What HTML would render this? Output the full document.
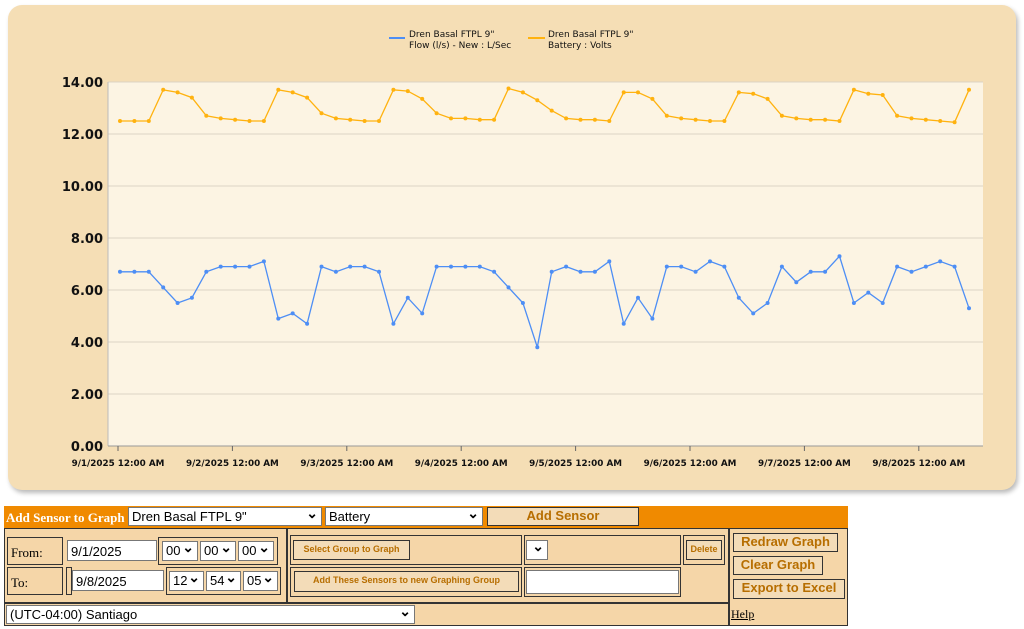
<!DOCTYPE html>
<html><head><meta charset="utf-8"><style>
body{margin:0;width:1024px;height:629px;background:#fff;position:relative;overflow:hidden;font-family:"Liberation Sans",sans-serif}
.panel{position:absolute;left:8px;top:5px;width:1008px;height:485px;background:#f5deb5;border-radius:14px;box-shadow:2px 3px 5px #bbb}
.abs{position:absolute;box-sizing:border-box}
.sel{background:#fff;border:1px solid #777;font-size:13px;padding:1px 3px;color:#000}
.btn{background:#f3dcb8;border:2px solid #333;color:#b76e00;font-weight:bold;text-align:center}
.cell{border:1px solid #333}
.serif{font-family:"Liberation Serif",serif}
.arr::after{content:"⌄";position:absolute;right:3px;top:-3px;font-size:14px;font-weight:bold}
</style></head><body>
<div class="panel"></div>
<svg id="c" class="abs" style="left:0;top:0" width="1024" height="500" xmlns="http://www.w3.org/2000/svg"></svg>

<div class="abs" style="left:4px;top:506px;width:844px;height:22px;background:#f08a00"></div>
<div class="abs serif" style="left:6px;top:510px;color:#fff;font-weight:bold;font-size:13px">Add Sensor to Graph</div>
<div class="abs sel arr" style="left:128px;top:507px;width:194px;height:19px">Dren Basal FTPL 9"</div>
<div class="abs sel arr" style="left:325px;top:507px;width:158px;height:19px">Battery</div>
<div class="abs btn" style="left:487px;top:507px;width:152px;height:19px;font-size:13px;line-height:15px;border-width:1px">Add Sensor</div>

<div class="abs" style="left:4px;top:528px;width:844px;height:98px;background:#f5d6a8;border:1px solid #333"></div>
<div class="abs cell" style="left:4px;top:528px;width:283px;height:75px"></div>
<div class="abs cell" style="left:287px;top:528px;width:442px;height:75px"></div>
<div class="abs cell" style="left:4px;top:603px;width:725px;height:23px"></div>
<div class="abs cell" style="left:729px;top:528px;width:119px;height:98px"></div>

<div class="abs cell serif" style="left:7px;top:537px;width:56px;height:28px;font-size:13px;padding:7px 3px">From:</div>
<div class="abs sel" style="left:67px;top:540px;width:90px;height:21px;font-size:13px;padding-top:3px">9/1/2025</div>
<div class="abs cell" style="left:158px;top:537px;width:120px;height:28px"></div>
<div class="abs sel arr" style="left:162px;top:541px;width:36px;height:20px">00</div>
<div class="abs sel arr" style="left:200px;top:541px;width:36px;height:20px">00</div>
<div class="abs sel arr" style="left:238px;top:541px;width:36px;height:20px">00</div>

<div class="abs cell serif" style="left:7px;top:567px;width:56px;height:28px;font-size:13px;padding:7px 3px">To:</div>
<div class="abs cell" style="left:66px;top:567px;width:6px;height:28px"></div>
<div class="abs sel" style="left:72px;top:570px;width:92px;height:21px;font-size:13px;padding-top:3px">9/8/2025</div>
<div class="abs cell" style="left:166px;top:567px;width:115px;height:28px"></div>
<div class="abs sel arr" style="left:169px;top:571px;width:35px;height:20px">12</div>
<div class="abs sel arr" style="left:206px;top:571px;width:35px;height:20px">54</div>
<div class="abs sel arr" style="left:243px;top:571px;width:35px;height:20px">05</div>

<div class="abs cell" style="left:290px;top:535px;width:232px;height:30px"></div>
<div class="abs btn" style="left:293px;top:540px;width:117px;height:20px;font-size:9px;line-height:16px;border-width:1px">Select Group to Graph</div>
<div class="abs cell" style="left:524px;top:535px;width:157px;height:30px"></div>
<div class="abs sel arr" style="left:526px;top:540px;width:22px;height:20px"></div>
<div class="abs cell" style="left:683px;top:535px;width:42px;height:30px"></div>
<div class="abs btn" style="left:686px;top:540px;width:36px;height:20px;font-size:9px;line-height:16px;border-width:1px">Delete</div>
<div class="abs cell" style="left:290px;top:567px;width:232px;height:30px"></div>
<div class="abs btn" style="left:294px;top:571px;width:225px;height:21px;font-size:9px;line-height:17px;border-width:1px">Add These Sensors to new Graphing Group</div>
<div class="abs cell" style="left:524px;top:567px;width:157px;height:30px"></div>
<div class="abs sel" style="left:526px;top:570px;width:153px;height:24px"></div>

<div class="abs btn" style="left:733px;top:533px;width:105px;height:19px;font-size:13px;line-height:15px;border-width:1px">Redraw Graph</div>
<div class="abs btn" style="left:733px;top:556px;width:90px;height:19px;font-size:13px;line-height:15px;border-width:1px">Clear Graph</div>
<div class="abs btn" style="left:733px;top:579px;width:112px;height:20px;font-size:13px;line-height:16px;border-width:1px">Export to Excel</div>

<div class="abs sel arr" style="left:6px;top:605px;width:409px;height:19px">(UTC-04:00) Santiago</div>
<div class="abs serif" style="left:731px;top:607px;font-size:12px;text-decoration:underline;color:#000">Help</div>

<script>
var B=[6.7,6.7,6.7,6.1,5.5,5.7,6.7,6.9,6.9,6.9,7.1,4.9,5.1,4.7,6.9,6.7,6.9,6.9,6.7,4.7,5.7,5.1,6.9,6.9,6.9,6.9,6.7,6.1,5.5,3.8,6.7,6.9,6.7,6.7,7.1,4.7,5.7,4.9,6.9,6.9,6.7,7.1,6.9,5.7,5.1,5.5,6.9,6.3,6.7,6.7,7.3,5.5,5.9,5.5,6.9,6.7,6.9,7.1,6.9,5.3];
var O=[12.5,12.5,12.5,13.7,13.6,13.4,12.7,12.6,12.55,12.5,12.5,13.7,13.6,13.4,12.8,12.6,12.55,12.5,12.5,13.7,13.65,13.35,12.8,12.6,12.6,12.55,12.55,13.75,13.6,13.3,12.9,12.6,12.55,12.55,12.5,13.6,13.6,13.35,12.7,12.6,12.55,12.5,12.5,13.6,13.55,13.35,12.7,12.6,12.55,12.55,12.5,13.7,13.55,13.5,12.7,12.6,12.55,12.5,12.45,13.7];
var s='<rect x="108" y="82" width="875" height="364" fill="#fcf4e3"/>';
for(var v=0;v<=14;v+=2){var y=446-v*26;s+='<line x1="108" x2="983" y1="'+y+'" y2="'+y+'" stroke="#dcd3c4" stroke-width="1"/>';
s+='<text x="103" y="'+(y+5)+'" text-anchor="end" font-size="13" font-weight="bold" font-family="DejaVu Sans" fill="#111">'+v.toFixed(2)+'</text>';}
s+='<line x1="108" x2="108" y1="82" y2="446" stroke="#bbb"/><line x1="108" x2="983" y1="446" y2="446" stroke="#999"/>';
for(var d=0;d<8;d++){var x=118+d*114.4;s+='<line x1="'+x+'" x2="'+x+'" y1="446" y2="451" stroke="#666"/>';
s+='<text x="'+x+'" y="466" text-anchor="middle" font-size="8.8" font-weight="bold" font-family="DejaVu Sans" fill="#111">9/'+(d+1)+'/2025 12:00 AM</text>';}
function ser(a,c){var p='',dots='';for(var i=0;i<a.length;i++){var x=120+i*14.39,y=446-a[i]*26;p+=x.toFixed(1)+','+y.toFixed(1)+' ';dots+='<circle cx="'+x.toFixed(1)+'" cy="'+y.toFixed(1)+'" r="2" fill="'+c+'"/>';}
return '<polyline points="'+p+'" fill="none" stroke="'+c+'" stroke-width="1.3"/>'+dots;}
s+=ser(O,'#ffb20f')+ser(B,'#4d8ef5');
s+='<line x1="389" x2="405" y1="38" y2="38" stroke="#4d8ef5" stroke-width="2"/><line x1="528" x2="545" y1="38" y2="38" stroke="#ffb20f" stroke-width="2"/>';
var t='font-size="9" font-family="DejaVu Sans" fill="#111"';
s+='<text x="409" y="37" '+t+'>Dren Basal FTPL 9"</text><text x="409" y="48" '+t+'>Flow (l/s) - New : L/Sec</text>';
s+='<text x="548" y="37" '+t+'>Dren Basal FTPL 9"</text><text x="548" y="48" '+t+'>Battery : Volts</text>';
document.getElementById('c').innerHTML=s;
</script>
</body></html>
